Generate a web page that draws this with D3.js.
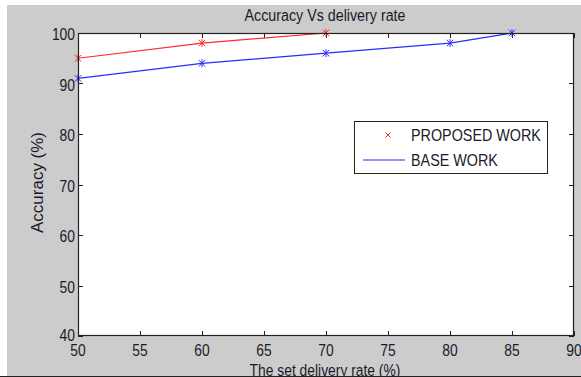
<!DOCTYPE html>
<html>
<head>
<meta charset="utf-8">
<script src="https://cdn.jsdelivr.net/npm/d3@7"></script>
<style>
  html, body { margin: 0; padding: 0; background: #fff; }
  svg { display: block; }
  text { font-family: "Liberation Sans", Arial, sans-serif; fill: #1a1a2a; }
</style>
</head>
<body>
<svg id="chart" width="581" height="377"></svg>
<script>
// Series data
const proposedX = [50, 60, 70];
const proposedY = [95, 98, 100];
const baseX = [50, 60, 70, 80, 85];
const baseY = [91, 94, 96, 98, 100];

// Axis ticks
const xTicks = [50, 55, 60, 65, 70, 75, 80, 85, 90];
const yTicks = [40, 50, 60, 70, 80, 90, 100];

const titleText = "Accuracy Vs delivery rate";
const xLabel = "The set delivery rate (%)";
const yLabel = "Accuracy (%)";
const legendLabels = ["PROPOSED WORK", "BASE WORK"];

const W = 581, H = 377;
const plot = { left: 78, right: 574, top: 33, bottom: 336 };
const SX = 0.84;       // horizontal squeeze giving a narrow Helvetica look
const FS = 16.5;

const svg = d3.select("#chart");

// figure background
svg.append("rect").attr("x", 7).attr("y", 5).attr("width", W - 7).attr("height", 371)
  .attr("fill", "#cccccc");

const x = d3.scaleLinear().domain([50, 90]).range([plot.left, plot.right]);
const y = d3.scaleLinear().domain([40, 100]).range([plot.bottom, plot.top]);

// axes area
svg.append("rect")
  .attr("x", plot.left).attr("y", plot.top)
  .attr("width", plot.right - plot.left).attr("height", plot.bottom - plot.top)
  .attr("fill", "#fff");

function label(parent, px, py, txt, anchor, size, sx, dy) {
  return parent.append("text")
    .attr("transform", `translate(${px},${py}) scale(${sx},1)`)
    .attr("text-anchor", anchor)
    .attr("dy", dy || 0)
    .attr("font-size", size + "px")
    .text(txt);
}

const tickLen = 5;
const ticks = svg.append("g").attr("stroke", "#222").attr("stroke-width", 1);
xTicks.forEach(v => {
  const px = Math.round(x(v)) + 0.5;
  ticks.append("line").attr("x1", px).attr("x2", px).attr("y1", plot.bottom).attr("y2", plot.bottom - tickLen);
  ticks.append("line").attr("x1", px).attr("x2", px).attr("y1", plot.top).attr("y2", plot.top + tickLen);
});
yTicks.forEach(v => {
  const py = Math.round(y(v)) + 0.5;
  ticks.append("line").attr("x1", plot.left).attr("x2", plot.left + tickLen).attr("y1", py).attr("y2", py);
  ticks.append("line").attr("x1", plot.right).attr("x2", plot.right - tickLen).attr("y1", py).attr("y2", py);
});

// tick labels
const tl = svg.append("g");
xTicks.forEach(v => label(tl, x(v), 356, d3.format("d")(v), "middle", FS, SX));
yTicks.forEach(v => label(tl, 75, y(v) + (v === 40 ? -0.5 : 1.2), d3.format("d")(v), "end", FS, SX, "0.36em"));

const lineGen = d3.line().x(d => x(d[0])).y(d => y(d[1]));

function asterisk(g, data, color) {
  const s = 3.3;
  const m = g.selectAll(null).data(data).enter().append("g")
    .attr("transform", d => `translate(${x(d[0])},${y(d[1])})`)
    .attr("stroke", color).attr("stroke-width", 1);
  m.append("line").attr("x1", -s).attr("y1", -s).attr("x2", s).attr("y2", s);
  m.append("line").attr("x1", -s).attr("y1", s).attr("x2", s).attr("y2", -s);
  m.append("line").attr("x1", 0).attr("y1", -s * 1.2).attr("x2", 0).attr("y2", s * 1.2);
}

const plotG = svg.append("g");
const proposed = proposedX.map((v, i) => [v, proposedY[i]]);
const base = baseX.map((v, i) => [v, baseY[i]]);

plotG.append("path").datum(base).attr("d", lineGen)
  .attr("fill", "none").attr("stroke", "#2a2aff").attr("stroke-width", 1.2);
asterisk(plotG, base, "#2a2aff");
plotG.append("path").datum(proposed).attr("d", lineGen)
  .attr("fill", "none").attr("stroke", "#ff2a2a").attr("stroke-width", 1.2);
asterisk(plotG, proposed, "#ff2a2a");

// axes box
svg.append("rect")
  .attr("x", plot.left + 0.5).attr("y", plot.top + 0.5)
  .attr("width", plot.right - plot.left - 1).attr("height", plot.bottom - plot.top - 1)
  .attr("fill", "none").attr("stroke", "#222").attr("stroke-width", 1.2);

// title and axis labels
label(svg, 325, 20.5, titleText, "middle", 17, SX);
label(svg, 325, 375.5, xLabel, "middle", FS, SX);
svg.append("text")
  .attr("transform", `translate(43,${(plot.top + plot.bottom) / 2 - 2}) rotate(-90) scale(1,0.92)`)
  .attr("text-anchor", "middle").attr("font-size", "17px").text(yLabel);

// bottom edge of the figure frame
svg.append("line").attr("x1", 0).attr("x2", W).attr("y1", 376.5).attr("y2", 376.5)
  .attr("stroke", "#222").attr("stroke-width", 1);

// legend
const lg = svg.append("g");
lg.append("rect").attr("x", 354.5).attr("y", 121.5).attr("width", 193).attr("height", 52)
  .attr("fill", "#fff").attr("stroke", "#222").attr("stroke-width", 1);
const lx = lg.append("g").attr("transform", "translate(388,135)").attr("stroke", "#ff2a2a").attr("stroke-width", 1);
lx.append("line").attr("x1", -2.5).attr("y1", -2.5).attr("x2", 2.5).attr("y2", 2.5);
lx.append("line").attr("x1", -2.5).attr("y1", 2.5).attr("x2", 2.5).attr("y2", -2.5);
lg.append("line").attr("x1", 363).attr("x2", 405).attr("y1", 160).attr("y2", 160)
  .attr("stroke", "#2a2aff").attr("stroke-width", 1.2);
legendLabels.forEach((d, i) => label(lg, 411, 135.5 + i * 25, d, "start", 16.5, 0.87, "0.36em"));
</script>
</body>
</html>
